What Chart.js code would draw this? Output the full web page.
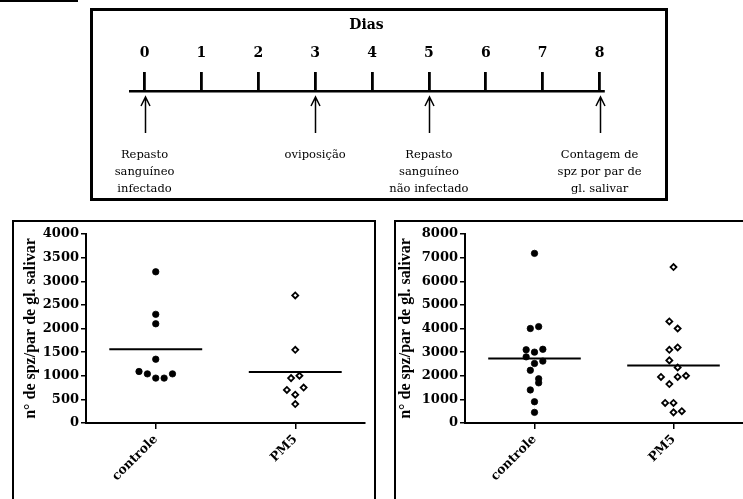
<!DOCTYPE html>
<html>
<head>
<meta charset="utf-8">
<script src="https://cdn.jsdelivr.net/npm/chart.js@4.4.1/dist/chart.umd.min.js"></script>
<style>
  html, body { margin: 0; padding: 0; background: #fff; width: 743px; height: 499px; overflow: hidden; }
  .box { position: absolute; box-sizing: border-box; border: solid #000; }
  #bar { position: absolute; left: 0; top: 0; width: 78px; height: 2px; background: #000; }
  #topBox { left: 90px; top: 8px; width: 578px; height: 193px; border-width: 3px; }
  #leftBox { left: 12px; top: 220px; width: 364px; height: 300px; border-width: 2px; }
  #rightBox { left: 394px; top: 220px; width: 364px; height: 300px; border-width: 2px; }
  canvas { position: absolute; left: 0; top: 0; }
</style>
</head>
<body>
<div id="bar"></div>
<div class="box" id="topBox"><canvas id="timeline" width="572" height="187"></canvas></div>
<div class="box" id="leftBox"><canvas id="plot1" width="360" height="277"></canvas></div>
<div class="box" id="rightBox"><canvas id="plot2" width="360" height="277"></canvas></div>
<script>
// linha do tempo
const days = [0, 1, 2, 3, 4, 5, 6, 7, 8];
const eventDays = [0, 3, 5, 8];
const eventLabels = [
    ['Repasto', 'sanguíneo', 'infectado'],
    ['oviposição'],
    ['Repasto', 'sanguíneo', 'não infectado'],
    ['Contagem de', 'spz por par de', 'gl. salivar']
];

const categories = ['controle', 'PM5'];
const yTitle = 'n° de spz/par de gl. salivar';

// experimento 1 (esquerda)
const ctrl1Values = [3200, 2300, 2100, 1350, 1090, 1040, 950, 950, 1040];
const ctrl1Jitter = [0, 0, 0, 0, -2, -1, 0, 1, 2];
const pm51Values = [2700, 1550, 1000, 950, 750, 700, 600, 400];
const pm51Jitter = [0, 0, 0.5, -0.5, 1, -1, 0, 0];
const mean1 = [1560, 1080];

// experimento 2 (direita)
const ctrl2Values = [7180, 4000, 4080, 3100, 3000, 3120, 2800, 2620, 2520, 2230, 1870, 1700, 1400, 900, 450];
const ctrl2Jitter = [0, -0.5, 0.5, -1, 0, 1, -1, 1, 0, -0.5, 0.5, 0.5, -0.5, 0, 0];
const pm52Values = [6600, 4300, 4000, 3100, 3200, 2650, 2350, 1950, 1950, 2000, 1650, 850, 850, 450, 500];
const pm52Jitter = [0, -0.5, 0.5, -0.5, 0.5, -0.5, 0.5, -1.5, 0.5, 1.5, -0.5, -1, 0, 0, 1];
const mean2 = [2730, 2430];

const JITTER_STEP = 0.06;
const MEAN_HALF = 0.333;
const serif = 'DejaVu Serif';

const arrowPlugin = {
    id: 'arrows',
    afterDraw(chart) {
        const { ctx, chartArea } = chart;
        const sx = chart.scales.xEv;
        ctx.save();
        ctx.strokeStyle = '#000';
        ctx.lineWidth = 1.5;
        eventDays.forEach(d => {
            const x = Math.round(sx.getPixelForValue(d)) + 0.5;
            const tip = chartArea.top + 6;
            ctx.beginPath();
            ctx.moveTo(x, chartArea.bottom);
            ctx.lineTo(x, tip);
            ctx.moveTo(x - 4.5, tip + 9);
            ctx.lineTo(x, tip);
            ctx.lineTo(x + 4.5, tip + 9);
            ctx.stroke();
        });
        ctx.restore();
    }
};

new Chart(document.getElementById('timeline'), {
    type: 'scatter',
    data: { datasets: [] },
    options: {
        responsive: false,
        animation: false,
        layout: { padding: { left: 37, right: 62, top: 0, bottom: 0 } },
        plugins: { legend: { display: false }, tooltip: { enabled: false } },
        scales: {
            x: {
                type: 'linear', position: 'top', min: -0.255, max: 8.06,
                afterBuildTicks: s => { s.ticks = days.map(d => ({ value: d })); },
                afterFit: s => { s.height = 80; },
                border: { display: true, color: '#000', width: 2.5 },
                grid: { drawOnChartArea: false, drawTicks: true, tickLength: 19, color: '#000', lineWidth: 2.8 },
                ticks: {
                    padding: 10, color: '#000', autoSkip: false, maxRotation: 0,
                    font: { family: serif, weight: 'bold', size: 14 },
                    callback: v => String(v)
                },
                title: {
                    display: true, text: 'Dias', color: '#000',
                    font: { family: serif, weight: 'bold', size: 14 },
                    padding: { top: 6, bottom: 0 }
                }
            },
            xEv: {
                type: 'linear', axis: 'x', position: 'bottom', min: -0.255, max: 8.06,
                afterBuildTicks: s => { s.ticks = eventDays.map(d => ({ value: d })); },
                afterFit: s => { s.height = 65; },
                border: { display: false },
                grid: { display: false, drawTicks: false },
                ticks: {
                    padding: 14, color: '#000', autoSkip: false, maxRotation: 0,
                    font: { family: serif, size: 11.5, lineHeight: 1.45 },
                    callback: (v, i) => eventLabels[i]
                }
            },
            y: { display: false, min: 0, max: 1 }
        }
    },
    plugins: [arrowPlugin]
});

function dotPlot(id, groups, means, yMax, yStep, axisW, padRight, titlePad) {
    const datasets = [];
    groups.forEach((g, ci) => {
        const cx = ci + 1;
        datasets.push({
            data: [{ x: cx - MEAN_HALF, y: means[ci] }, { x: cx + MEAN_HALF, y: means[ci] }],
            showLine: true, borderColor: '#000', borderWidth: 2, pointRadius: 0
        });
        datasets.push({
            data: g.values.map((v, i) => ({ x: cx + g.jitter[i] * JITTER_STEP, y: v })),
            pointStyle: ci === 0 ? 'circle' : 'rectRot',
            pointRadius: ci === 0 ? 3.2 : 3,
            backgroundColor: ci === 0 ? '#000' : '#fff',
            borderColor: '#000',
            borderWidth: ci === 0 ? 0.8 : 1.8
        });
    });

    new Chart(document.getElementById(id), {
        type: 'scatter',
        data: { datasets },
        options: {
            responsive: false,
            animation: false,
            layout: { padding: { left: 0, right: padRight, top: 12, bottom: 0 } },
            plugins: { legend: { display: false }, tooltip: { enabled: false } },
            scales: {
                x: {
                    type: 'linear', min: 0.5, max: 2.5,
                    afterBuildTicks: s => { s.ticks = categories.map((c, i) => ({ value: i + 1 })); },
                    afterFit: s => { s.height = 76; },
                    ticks: {
                        autoSkip: false, minRotation: 45, maxRotation: 45, padding: 3, color: '#000',
                        font: { family: serif, weight: 'bold', size: 12.5 },
                        callback: (v, i) => categories[i]
                    },
                    grid: { drawOnChartArea: false, drawTicks: true, tickLength: 6, color: '#000', lineWidth: 1.5 },
                    border: { color: '#000', width: 2 }
                },
                y: {
                    min: 0, max: yMax,
                    afterFit: s => { s.width = axisW; },
                    ticks: {
                        stepSize: yStep, padding: 2, color: '#000',
                        font: { family: serif, weight: 'bold', size: 13 },
                        callback: v => String(v)
                    },
                    grid: { drawOnChartArea: false, drawTicks: true, tickLength: 5, color: '#000', lineWidth: 1.5 },
                    border: { color: '#000', width: 2 },
                    title: {
                        display: true, text: yTitle, color: '#000',
                        font: { family: 'Liberation Serif', weight: 'bold', size: 16 },
                        padding: { top: titlePad, bottom: 0 }
                    }
                }
            }
        }
    });
}

dotPlot('plot1',
    [{ values: ctrl1Values, jitter: ctrl1Jitter }, { values: pm51Values, jitter: pm51Jitter }],
    mean1, 4000, 500, 72, 9, 7);

dotPlot('plot2',
    [{ values: ctrl2Values, jitter: ctrl2Jitter }, { values: pm52Values, jitter: pm52Jitter }],
    mean2, 8000, 1000, 69, 13, 0);
</script>
</body>
</html>
